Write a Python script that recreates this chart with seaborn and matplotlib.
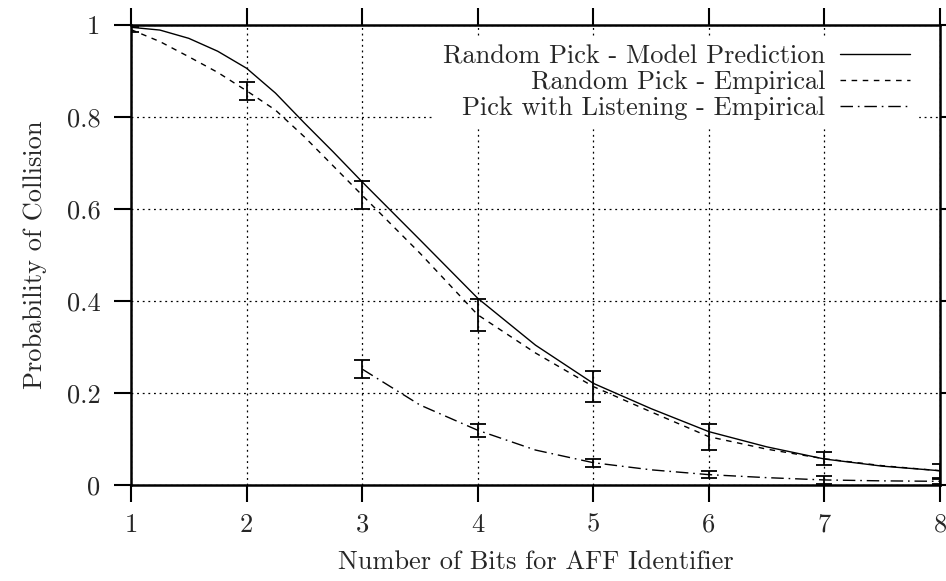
import numpy as np
import pandas as pd
import matplotlib
matplotlib.use("Agg")
import matplotlib.pyplot as plt
import seaborn as sns

# ---- data ----
model_x = [1, 1.25, 1.5, 1.75, 2, 2.25, 2.5, 2.75, 3, 3.5, 4, 4.5, 5, 5.5, 6, 6.5, 7, 7.5, 8]
model_y = [0.995, 0.989, 0.971, 0.943, 0.906, 0.852, 0.787, 0.724, 0.659, 0.533, 0.406,
           0.304, 0.221, 0.166, 0.116, 0.083, 0.0565, 0.041, 0.031]

rand_x = [1, 1.25, 1.5, 1.75, 2, 2.25, 2.5, 3, 3.5, 4, 4.5, 5, 5.5, 6, 6.5, 7, 7.5, 8]
rand_y = [0.990, 0.964, 0.931, 0.897, 0.857, 0.815, 0.757, 0.630, 0.504, 0.370, 0.287,
          0.214, 0.159, 0.105, 0.078, 0.057, 0.042, 0.031]

listen_x = [3, 3.5, 4, 4.5, 5, 5.5, 6, 6.5, 7, 7.5, 8]
listen_y = [0.252, 0.174, 0.119, 0.076, 0.0485, 0.033, 0.0225, 0.016, 0.011, 0.009, 0.008]

# empirical points with error bars
rand_pts_x = [1, 2, 3, 4, 5, 6, 7, 8]
rand_pts_y = [0.990, 0.857, 0.630, 0.370, 0.214, 0.105, 0.057, 0.031]
rand_err = [0.005, 0.020, 0.030, 0.035, 0.034, 0.028, 0.014, 0.015]

listen_pts_x = [3, 4, 5, 6, 7, 8]
listen_pts_y = [0.252, 0.119, 0.0485, 0.0225, 0.011, 0.008]
listen_err = [0.020, 0.014, 0.009, 0.008, 0.009, 0.005]

labels = ["Random Pick - Model Prediction",
          "Random Pick - Empirical",
          "Pick with Listening - Empirical"]
xticks = [1, 2, 3, 4, 5, 6, 7, 8]
yticks = [0, 0.2, 0.4, 0.6, 0.8, 1]
ytick_labels = ["0", "0.2", "0.4", "0.6", "0.8", "1"]
xlabel = "Number of Bits for AFF Identifier"
ylabel = "Probability of Collision"

# ---- styling ----
sns.set_theme(style="white")
plt.rcParams["font.family"] = ["cmr10", "DejaVu Serif"]
plt.rcParams["axes.formatter.use_mathtext"] = True
plt.rcParams["mathtext.fontset"] = "cm"

FS = 19
fig = plt.figure(figsize=(9.46, 5.81), dpi=100)
ax = fig.add_axes([131 / 946, 1 - 485 / 581, (940 - 131) / 946, (485 - 25) / 581])

df_model = pd.DataFrame({"x": model_x, "y": model_y})
df_rand = pd.DataFrame({"x": rand_x, "y": rand_y})
df_listen = pd.DataFrame({"x": listen_x, "y": listen_y})

sns.lineplot(data=df_model, x="x", y="y", ax=ax, color="black", lw=1.0,
             label=labels[0], sort=False)
sns.lineplot(data=df_rand, x="x", y="y", ax=ax, color="black", lw=1.0,
             dashes=False, label=labels[1], sort=False)
sns.lineplot(data=df_listen, x="x", y="y", ax=ax, color="black", lw=1.0,
             label=labels[2], sort=False)
lines = ax.get_lines()
lines[1].set_dashes([4, 4])
lines[2].set_dashes([9, 3.5, 1.2, 3.5])

ax.errorbar(rand_pts_x, rand_pts_y, yerr=rand_err, fmt="none", ecolor="black",
            elinewidth=1.3, capsize=6, capthick=1.3, zorder=3)
ax.errorbar(listen_pts_x, listen_pts_y, yerr=listen_err, fmt="none", ecolor="black",
            elinewidth=1.3, capsize=6, capthick=1.3, zorder=3)

ax.set_xlim(1, 8)
ax.set_ylim(0, 1)
ax.set_xticks(xticks)
ax.set_xticklabels([str(t) for t in xticks], fontsize=FS)
ax.set_yticks(yticks)
ax.set_yticklabels(ytick_labels, fontsize=FS)
ax.tick_params(axis="both", which="major", direction="out", length=12, width=1.5,
               color="black", top=True, right=True, bottom=True, left=True)
ax.tick_params(axis="x", pad=8)
ax.tick_params(axis="y", pad=10)

ax.grid(True, color="black", linestyle=(0, (1.5, 3)), linewidth=0.9)
ax.set_axisbelow(True)
for s in ax.spines.values():
    s.set_color("black")
    s.set_linewidth(1.8)

ax.set_xlabel(xlabel, fontsize=FS, labelpad=10)
ax.set_ylabel(ylabel, fontsize=FS, labelpad=14)

leg = ax.legend(loc="upper right", bbox_to_anchor=(0.973, 0.975), markerfirst=False,
                frameon=True, fancybox=False, framealpha=1.0, facecolor="white",
                edgecolor="white", fontsize=FS, handlelength=2.65, handletextpad=0.57,
                labelspacing=0.08, borderpad=0.3, borderaxespad=0)
leg.set_zorder(5)

fig.savefig("out.png", dpi=100)
